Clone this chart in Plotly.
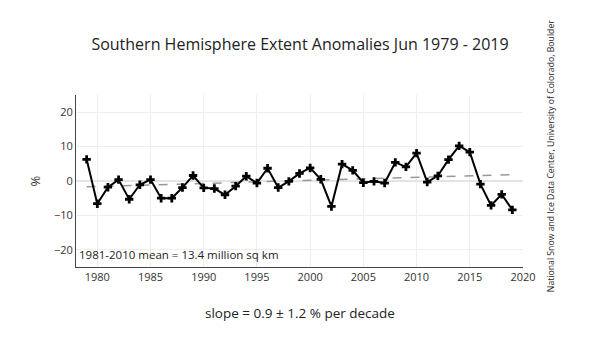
import numpy as np
import plotly.graph_objects as go

# June sea ice extent anomalies, Southern Hemisphere (% of 1981-2010 mean)
years = list(range(1979, 2020))
anomaly = [
    6.3, -6.6, -1.8, 0.4, -5.3, -1.1, 0.4, -5.0, -5.0, -1.9,
    1.6, -2.0, -2.2, -4.0, -1.5, 1.4, -0.6, 3.7, -1.9, -0.1,
    2.2, 3.8, 0.5, -7.4, 4.9, 3.1, -0.5, -0.1, -0.6, 5.4,
    4.1, 8.1, -0.3, 1.5, 6.2, 10.2, 8.4, -0.9, -7.1, -3.9,
    -8.4,
]
x_ticks = [1980, 1985, 1990, 1995, 2000, 2005, 2010, 2015, 2020]
y_ticks = [-20, -10, 0, 10, 20]

# least-squares trend over the record
coef = np.polyfit(years, anomaly, 1)
trend_x = [years[0], years[-1]]
trend_y = [float(np.polyval(coef, v)) for v in trend_x]

fig = go.Figure()
fig.add_trace(go.Scatter(
    x=trend_x, y=trend_y, mode="lines",
    line=dict(color="#999999", width=1.5, dash="dash"),
    hoverinfo="skip", showlegend=False,
))
fig.add_trace(go.Scatter(
    x=years, y=anomaly, mode="lines+markers",
    line=dict(color="black", width=2),
    marker=dict(symbol="cross", size=7, color="black"),
    showlegend=False,
))

font_family = "Open Sans, Verdana, Arial, sans-serif"

fig.update_layout(
    width=600, height=343,
    margin=dict(l=76, r=77, t=95, b=76),
    paper_bgcolor="white", plot_bgcolor="white",
    font=dict(family=font_family, color="#222222"),
    title=dict(
        text="Southern Hemisphere Extent Anomalies Jun 1979 - 2019",
        x=0.5, xanchor="center", y=0.87, yanchor="middle",
        font=dict(size=16, color="#222222"),
    ),
    xaxis=dict(
        range=[1978, 2020], tickvals=x_ticks, showgrid=True,
        gridcolor="#eeeeee", showline=True, linecolor="#444444",
        linewidth=1, zeroline=False, ticks="",
        tickfont=dict(size=11, color="#333333"),
    ),
    yaxis=dict(
        range=[-25, 25], tickvals=y_ticks, showgrid=True,
        gridcolor="#eeeeee", showline=True, linecolor="#444444",
        linewidth=1, zeroline=True, zerolinecolor="#e4e4e4",
        zerolinewidth=2, ticks="",
        tickfont=dict(size=11, color="#333333"),
        title=dict(text="%", font=dict(size=13, color="#333333"), standoff=10),
    ),
    annotations=[
        dict(
            text="1981-2010 mean = 13.4 million sq km",
            xref="paper", yref="paper", x=0.003, y=0.015,
            xanchor="left", yanchor="bottom", showarrow=False,
            font=dict(size=11.5, color="#222222"),
        ),
        dict(
            text="slope = 0.9 \u00b1 1.2 % per decade",
            xref="paper", yref="paper", x=0.5, y=-0.265,
            xanchor="center", yanchor="middle", showarrow=False,
            font=dict(size=13.5, color="#222222"),
        ),
        dict(
            text="National Snow and Ice Data Center, University of Colorado, Boulder",
            xref="paper", yref="paper", x=1.063, y=0.5,
            xanchor="center", yanchor="middle", showarrow=False,
            textangle=-90, yshift=25,
            font=dict(size=8.7, color="#222222"),
        ),
    ],
)

fig.write_html("out.html")
